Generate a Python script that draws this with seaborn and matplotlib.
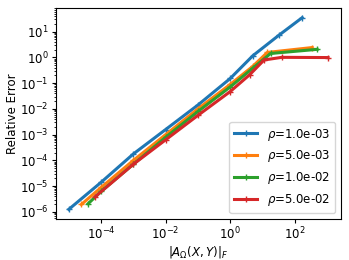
import matplotlib
matplotlib.use("Agg")
import matplotlib.pyplot as plt
import matplotlib.ticker as mticker
import seaborn as sns

# values (log-log)
labels = ["$\\rho$=1.0e-03", "$\\rho$=5.0e-03", "$\\rho$=1.0e-02", "$\\rho$=5.0e-02"]

x_1 = [1.0e-5, 1.0e-4, 1.0e-3, 1.0e-2, 1.0e-1, 1.0, 5.0, 31.6, 170]
y_1 = [1.26e-6, 1.41e-5, 1.78e-4, 1.58e-3, 1.41e-2, 0.151, 1.15, 7.08, 34.7]

x_2 = [2.45e-5, 1.0e-4, 1.0e-3, 1.0e-2, 0.1, 1.0, 5.0, 14.1, 347]
y_2 = [1.95e-6, 8.9e-6, 1.0e-4, 1.0e-3, 1.0e-2, 8.9e-2, 0.447, 1.55, 2.4]

x_3 = [3.98e-5, 1.0e-4, 1.0e-3, 1.0e-2, 0.1, 1.0, 5.0, 17.8, 490]
y_3 = [2.09e-6, 6.3e-6, 7.1e-5, 7.9e-4, 7.9e-3, 7.1e-2, 0.38, 1.41, 2.04]

x_4 = [6.6e-5, 1.0e-3, 1.0e-2, 0.1, 1.0, 3.98, 11.2, 39.8, 1070]
y_4 = [3.9e-6, 7.1e-5, 6.3e-4, 5.6e-3, 4.7e-2, 0.21, 0.79, 1.0, 0.98]

x_ticks = [1e-4, 1e-2, 1e0, 1e2]
y_ticks = [1e-6, 1e-5, 1e-4, 1e-3, 1e-2, 1e-1, 1e0, 1e1]

plt.rcParams["font.size"] = 8.5

fig = plt.figure(figsize=(3.49, 2.6), dpi=100)
ax = fig.add_subplot(111)
fig.subplots_adjust(left=0.16, right=0.977, top=0.969, bottom=0.158)

colors = sns.color_palette("tab10")
for i, (xs, ys) in enumerate([(x_1, y_1), (x_2, y_2), (x_3, y_3), (x_4, y_4)]):
    sns.lineplot(x=xs, y=ys, ax=ax, color=colors[i], label=labels[i],
                 marker="+", linewidth=2.2, markersize=4, markeredgewidth=1,
                 markeredgecolor=colors[i])

ax.set_xscale("log")
ax.set_yscale("log")
ax.xaxis.set_major_locator(mticker.FixedLocator(x_ticks))
ax.yaxis.set_major_locator(mticker.FixedLocator(y_ticks))
ax.xaxis.set_minor_formatter(mticker.NullFormatter())
ax.yaxis.set_minor_locator(mticker.LogLocator(base=10, subs=[2, 3, 4, 5, 6, 7, 8, 9], numticks=20))
ax.yaxis.set_minor_formatter(mticker.NullFormatter())
ax.tick_params(which="major", length=3, pad=2)
ax.tick_params(which="minor", length=1.7)
ax.set_xlabel("$|A_{\\Omega}(X, Y)|_F$", labelpad=1)
ax.set_ylabel("Relative Error", labelpad=1)
ax.legend(loc="lower right")

fig.savefig("out.png", dpi=100)
